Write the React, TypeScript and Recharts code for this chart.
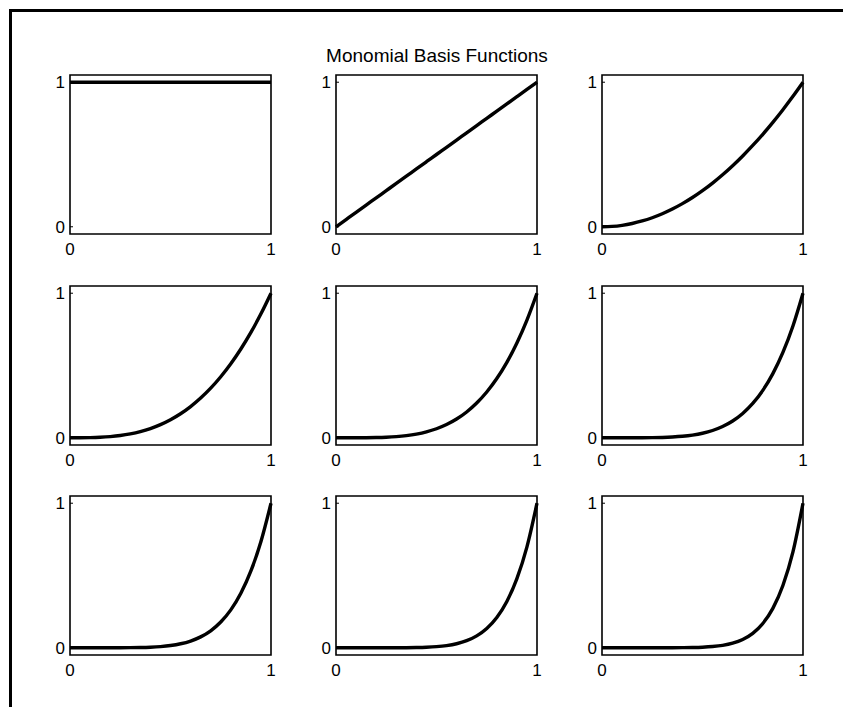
import { LineChart, Line, XAxis, YAxis, ReferenceArea } from "recharts";

// sample points along [0, 1]
const xs = [0, 0.05, 0.1, 0.15, 0.2, 0.25, 0.3, 0.35, 0.4, 0.45, 0.5, 0.55, 0.6, 0.65, 0.7, 0.75, 0.8, 0.85, 0.9, 0.95, 1];

// monomials x^0 .. x^8 at those points
const p0 = [1, 1, 1, 1, 1, 1, 1, 1, 1, 1, 1, 1, 1, 1, 1, 1, 1, 1, 1, 1, 1];
const p1 = [0, 0.05, 0.1, 0.15, 0.2, 0.25, 0.3, 0.35, 0.4, 0.45, 0.5, 0.55, 0.6, 0.65, 0.7, 0.75, 0.8, 0.85, 0.9, 0.95, 1];
const p2 = [0, 0.0025, 0.01, 0.0225, 0.04, 0.0625, 0.09, 0.1225, 0.16, 0.2025, 0.25, 0.3025, 0.36, 0.4225, 0.49, 0.5625, 0.64, 0.7225, 0.81, 0.9025, 1];
const p3 = [0, 0.0001, 0.001, 0.0034, 0.008, 0.0156, 0.027, 0.0429, 0.064, 0.0911, 0.125, 0.1664, 0.216, 0.2746, 0.343, 0.4219, 0.512, 0.6141, 0.729, 0.8574, 1];
const p4 = [0, 0, 0.0001, 0.0005, 0.0016, 0.0039, 0.0081, 0.015, 0.0256, 0.041, 0.0625, 0.0915, 0.1296, 0.1785, 0.2401, 0.3164, 0.4096, 0.522, 0.6561, 0.8145, 1];
const p5 = [0, 0, 0, 0.0001, 0.0003, 0.001, 0.0024, 0.0053, 0.0102, 0.0185, 0.0313, 0.0503, 0.0778, 0.116, 0.1681, 0.2373, 0.3277, 0.4437, 0.5905, 0.7738, 1];
const p6 = [0, 0, 0, 0, 0.0001, 0.0002, 0.0007, 0.0018, 0.0041, 0.0083, 0.0156, 0.0277, 0.0467, 0.0754, 0.1176, 0.178, 0.2621, 0.3771, 0.5314, 0.7351, 1];
const p7 = [0, 0, 0, 0, 0, 0.0001, 0.0002, 0.0006, 0.0016, 0.0037, 0.0078, 0.0152, 0.028, 0.049, 0.0824, 0.1335, 0.2097, 0.3206, 0.4783, 0.6983, 1];
const p8 = [0, 0, 0, 0, 0, 0, 0.0001, 0.0002, 0.0007, 0.0017, 0.0039, 0.0084, 0.0168, 0.0319, 0.0576, 0.1001, 0.1678, 0.2725, 0.4305, 0.6634, 1];

const basis = [p0, p1, p2, p3, p4, p5, p6, p7, p8];

const xTicks = [0, 1];
const yTicks = [0, 1];

const TITLE = "Monomial Basis Functions";

const FONT = "'Liberation Sans', Arial, Helvetica, sans-serif";
const colLeft = [70, 336, 602];
const rowTop = [75, 286, 496];
const PLOT_W = 201;
const PLOT_H = 159;
const Y_W = 40;
const Y_DOMAIN: [number, number] = [-0.05, 1.05];

function Panel({ values, left, top }: { values: number[]; left: number; top: number }) {
  const data = xs.map((x, i) => ({ x, y: values[i] }));
  const tick = { fill: "#000", fontSize: 17, fontFamily: FONT };
  const inward = { stroke: "#000", strokeWidth: 1 };
  return (
    <div style={{ position: "absolute", left: left - Y_W, top: top - 5 }}>
      <LineChart width={Y_W + PLOT_W + 10} height={5 + PLOT_H + 30} data={data} margin={{ top: 5, right: 9, bottom: 0, left: 0 }}>
        <XAxis
          dataKey="x"
          type="number"
          domain={[0, 1]}
          ticks={xTicks}
          axisLine={false}
          tickLine={false}
          tickSize={5}
          tickMargin={4}
          height={30}
          tick={tick}
          interval={0}
        />
        {/* left axis: labels outside, short tick marks pointing into the box */}
        <YAxis
          yAxisId="l"
          type="number"
          domain={Y_DOMAIN}
          ticks={yTicks}
          axisLine={false}
          tickLine={inward}
          tickSize={-3}
          tickMargin={8}
          width={Y_W}
          tick={tick}
          interval={0}
        />
        <YAxis
          yAxisId="r"
          orientation="right"
          type="number"
          domain={Y_DOMAIN}
          ticks={yTicks}
          axisLine={false}
          tickLine={inward}
          tickSize={-3}
          tick={false}
          width={1}
          interval={0}
        />
        <ReferenceArea yAxisId="l" x1={0} x2={1} y1={-0.05} y2={1.05} fill="none" stroke="#000" strokeWidth={1.6} ifOverflow="visible" />
        <Line
          yAxisId="l"
          dataKey="y"
          type="monotone"
          stroke="#000"
          strokeWidth={3.4}
          dot={false}
          activeDot={false}
          isAnimationActive={false}
        />
      </LineChart>
    </div>
  );
}

export default function App() {
  return (
    <div style={{ position: "absolute", left: 0, top: 0, width: 843, height: 707, overflow: "hidden", background: "#fff" }}>
      <div
        style={{
          position: "absolute",
          left: 9,
          top: 9,
          right: -10,
          bottom: -10,
          borderTop: "3px solid #000",
          borderLeft: "3px solid #000",
        }}
      />
      <svg width={843} height={80} style={{ position: "absolute", left: 0, top: 0 }}>
        <text x={437} y={62} textAnchor="middle" fontSize={19} fontFamily={FONT} fill="#000">
          {TITLE}
        </text>
      </svg>
      {basis.map((values, i) => (
        <Panel key={i} values={values} left={colLeft[i % 3]} top={rowTop[Math.floor(i / 3)]} />
      ))}
    </div>
  );
}
